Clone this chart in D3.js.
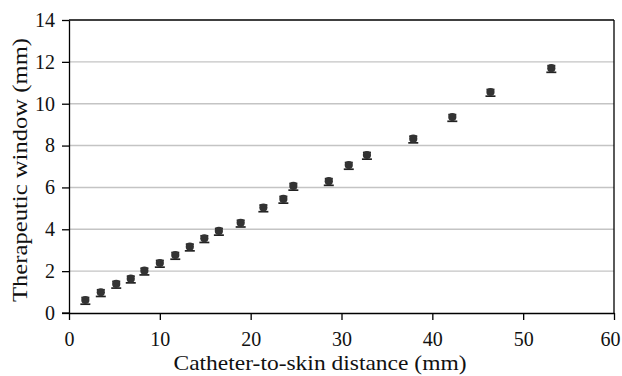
<!DOCTYPE html>
<html><head><meta charset="utf-8">
<script src="https://cdn.jsdelivr.net/npm/d3@7"></script>
<style>body{margin:0;background:#fff;} svg{display:block;}</style>
</head><body>
<svg id="c" width="622" height="376"></svg>
<script>
const distance = [1.8, 3.5, 5.2, 6.8, 8.3, 10.0, 11.7, 13.3, 14.9, 16.5, 18.9, 21.4, 23.6, 24.7, 28.6, 30.8, 32.8, 37.9, 42.2, 46.4, 53.1];
const windowMM = [0.62, 0.99, 1.39, 1.64, 2.02, 2.39, 2.77, 3.17, 3.57, 3.92, 4.31, 5.04, 5.45, 6.07, 6.30, 7.07, 7.55, 8.33, 9.36, 10.56, 11.70];
const errLow = 0.2;
const errHigh = 0.12;
const xTicks = [0, 10, 20, 30, 40, 50, 60];
const yTicks = [0, 2, 4, 6, 8, 10, 12, 14];
const xTitle = "Catheter-to-skin distance (mm)";
const yTitle = "Therapeutic window (mm)";

const W = 622, H = 376;
const m = {l: 69, r: 8, t: 20, b: 63};
const svg = d3.select("#c");
const font = "Liberation Serif, DejaVu Serif, serif";
const x = d3.scaleLinear().domain([0, 60]).range([m.l, W - m.r]);
const y = d3.scaleLinear().domain([0, 14]).range([H - m.b, m.t]);

// gridlines
svg.append("g").selectAll("line").data(yTicks.filter(v => v > 0 && v < 14)).join("line")
  .attr("x1", x(0)).attr("x2", x(60)).attr("y1", d => y(d)).attr("y2", d => y(d))
  .attr("stroke", "#c4c4c4").attr("stroke-width", 1.4);

// frame top/right
svg.append("line").attr("x1", x(0)).attr("x2", x(60)).attr("y1", y(14)).attr("y2", y(14)).attr("stroke", "#000").attr("stroke-width", 1.3);
svg.append("line").attr("x1", x(60)).attr("x2", x(60)).attr("y1", y(14)).attr("y2", y(0)).attr("stroke", "#000").attr("stroke-width", 1.3);

const xAxis = svg.append("g").attr("transform", `translate(0,${y(0)})`)
  .call(d3.axisBottom(x).tickValues(xTicks).tickSize(7).tickSizeOuter(0).tickPadding(12));
const yAxis = svg.append("g").attr("transform", `translate(${x(0)},0)`)
  .call(d3.axisLeft(y).tickValues(yTicks).tickSize(7).tickSizeOuter(0).tickPadding(7));
[xAxis, yAxis].forEach(g => {
  g.attr("font-family", font).attr("font-size", 20);
  g.select(".domain").attr("stroke", "#000").attr("stroke-width", 1.3);
  g.selectAll(".tick line").attr("stroke", "#000").attr("stroke-width", 1.3);
  g.selectAll(".tick text").attr("fill", "#111");
});
xAxis.selectAll(".tick text").filter(d => d === 60).attr("dx", -4);
// extend x axis line past origin
svg.append("line").attr("x1", x(0) - 7).attr("x2", x(0)).attr("y1", y(0)).attr("y2", y(0)).attr("stroke", "#000").attr("stroke-width", 1.3);

// error bars
const pts = distance.map((d, i) => ({x: d, y: windowMM[i]}));
const eb = svg.append("g").attr("stroke", "#222").attr("stroke-width", 1.7);
eb.selectAll(".v").data(pts).join("line")
  .attr("x1", d => x(d.x)).attr("x2", d => x(d.x))
  .attr("y1", d => y(d.y - errLow)).attr("y2", d => y(d.y + errHigh));
eb.selectAll(".lo").data(pts).join("line")
  .attr("x1", d => x(d.x) - 5).attr("x2", d => x(d.x) + 5)
  .attr("y1", d => y(d.y - errLow)).attr("y2", d => y(d.y - errLow));
eb.selectAll(".hi").data(pts).join("line")
  .attr("x1", d => x(d.x) - 4).attr("x2", d => x(d.x) + 4)
  .attr("y1", d => y(d.y + errHigh)).attr("y2", d => y(d.y + errHigh));

svg.append("g").selectAll("circle").data(pts).join("circle")
  .attr("cx", d => x(d.x)).attr("cy", d => y(d.y)).attr("r", 4.1)
  .attr("fill", "#333");

svg.append("text").attr("x", 320).attr("y", 370)
  .attr("text-anchor", "middle").attr("font-family", font).attr("font-size", 22).attr("fill", "#111")
  .attr("textLength", 293).attr("lengthAdjust", "spacingAndGlyphs")
  .text(xTitle);
svg.append("text").attr("transform", `translate(27,170) rotate(-90)`)
  .attr("text-anchor", "middle").attr("font-family", font).attr("font-size", 22).attr("fill", "#111")
  .attr("textLength", 264).attr("lengthAdjust", "spacingAndGlyphs")
  .text(yTitle);
</script>
</body></html>
